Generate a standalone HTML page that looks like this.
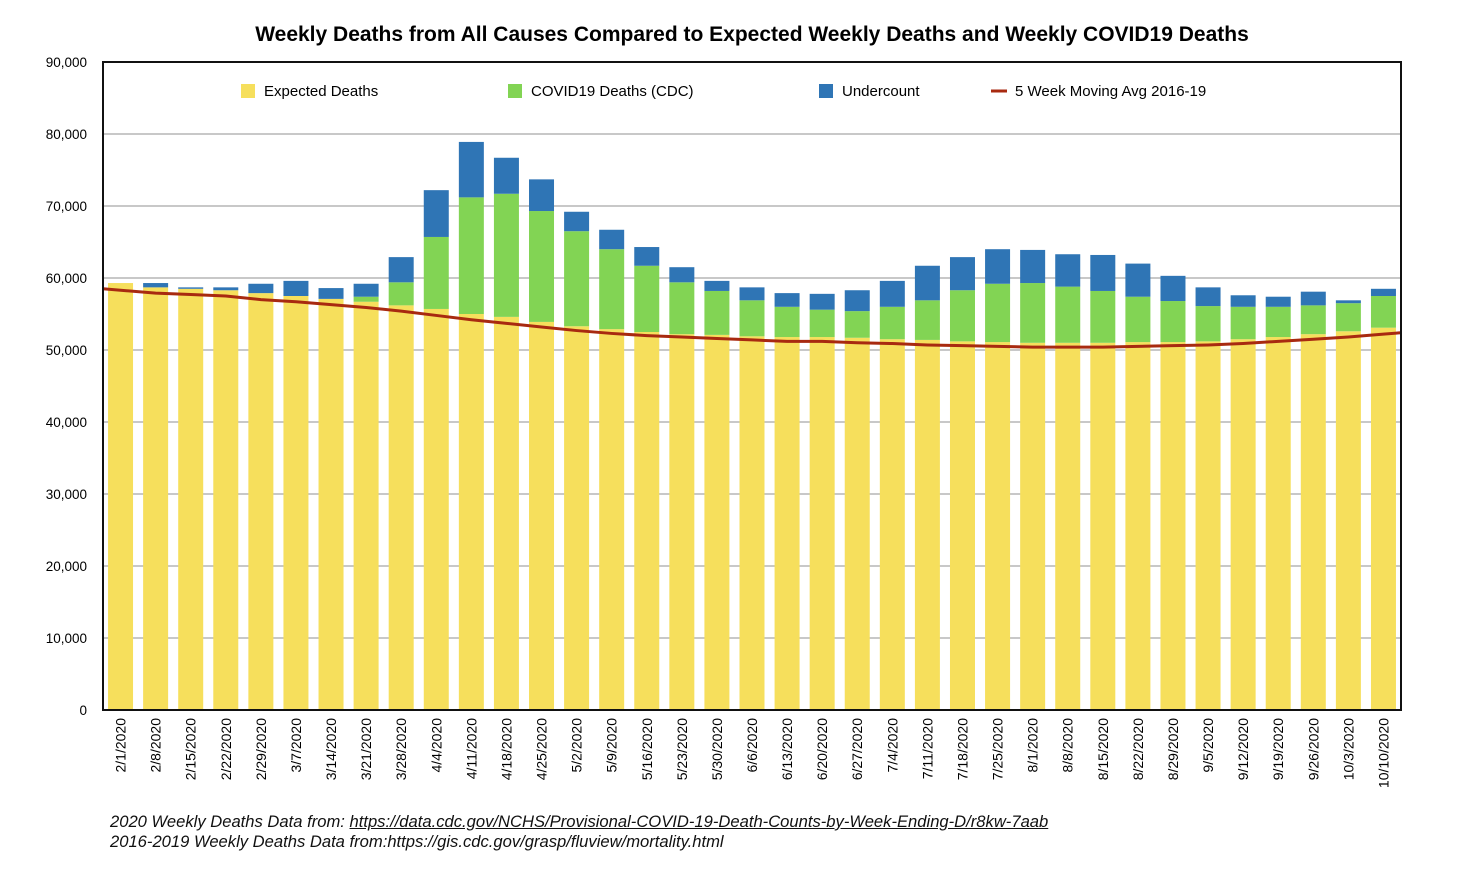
<!DOCTYPE html>
<html><head><meta charset="utf-8">
<style>
body{margin:0;background:#fff;font-family:"Liberation Sans",Arial,sans-serif;}
#wrap{position:relative;width:1482px;height:880px;overflow:hidden;}
svg text{font-family:"Liberation Sans",Arial,sans-serif;}
.foot{position:absolute;left:110px;font-style:italic;font-size:16.6px;color:#111;}
</style></head>
<body>
<div id="wrap">
<svg id="chart" width="1482" height="880"></svg>
<div class="foot" style="top:812px">2020 Weekly Deaths Data from: <span style="text-decoration:underline">https://data.cdc.gov/NCHS/Provisional-COVID-19-Death-Counts-by-Week-Ending-D/r8kw-7aab</span></div>
<div class="foot" style="top:832px">2016-2019 Weekly Deaths Data from:https://gis.cdc.gov/grasp/fluview/mortality.html</div>
</div>
<script>
const categories=["2/1/2020","2/8/2020","2/15/2020","2/22/2020","2/29/2020","3/7/2020","3/14/2020","3/21/2020","3/28/2020","4/4/2020","4/11/2020","4/18/2020","4/25/2020","5/2/2020","5/9/2020","5/16/2020","5/23/2020","5/30/2020","6/6/2020","6/13/2020","6/20/2020","6/27/2020","7/4/2020","7/11/2020","7/18/2020","7/25/2020","8/1/2020","8/8/2020","8/15/2020","8/22/2020","8/29/2020","9/5/2020","9/12/2020","9/19/2020","9/26/2020","10/3/2020","10/10/2020"];
const expected=[59300,58700,58500,58300,57900,57500,57100,56700,56200,55700,55000,54600,53900,53300,52900,52500,52200,52100,51900,51800,51800,51700,51500,51400,51200,51100,51000,51000,51000,51100,51100,51200,51500,51800,52200,52600,53100];
const covid=[0,0,0,0,0,0,0,700,3200,10000,16200,17100,15400,13200,11100,9200,7200,6100,5000,4200,3800,3700,4500,5500,7100,8100,8300,7800,7200,6300,5700,4900,4500,4200,4000,3900,4400];
const undercount=[0,600,200,400,1300,2100,1500,1800,3500,6500,7700,5000,4400,2700,2700,2600,2100,1400,1800,1900,2200,2900,3600,4800,4600,4800,4600,4500,5000,4600,3500,2600,1600,1400,1900,400,1000];
const movingAvg=[58300,57900,57700,57500,57000,56700,56300,55900,55400,54800,54200,53700,53200,52700,52300,52000,51800,51600,51400,51200,51200,51000,50900,50700,50600,50500,50400,50400,50400,50500,50600,50700,50900,51200,51500,51800,52200];
const movingAvgStart=58500, movingAvgEnd=52400;
const yTicks=[0,10000,20000,30000,40000,50000,60000,70000,80000,90000];
const yTickLabels=["0","10,000","20,000","30,000","40,000","50,000","60,000","70,000","80,000","90,000"];

const NS="http://www.w3.org/2000/svg";
const svg=document.getElementById('chart');
const L=103,R=1401,T=62,B=710,YMAX=90000;
const band=(R-L)/categories.length, bw=25;
function y(v){return B-(v/YMAX)*(B-T);}
function xc(i){return L+band*(i+0.5);}
function mk(tag,attrs,parent){const e=document.createElementNS(NS,tag);for(const k in attrs)e.setAttribute(k,attrs[k]);(parent||svg).appendChild(e);return e;}

const title=mk('text',{x:752,y:41,'text-anchor':'middle','font-size':21,'font-weight':'bold',fill:'#000'});
title.textContent='Weekly Deaths from All Causes Compared to Expected Weekly Deaths and Weekly COVID19 Deaths';



yTicks.forEach((t,i)=>{
  if(t>0&&t<YMAX){const g=mk('line',{x1:L,x2:R,y1:y(t),y2:y(t),stroke:'#c8c8c8','stroke-width':2});
  
  }
  const tx=mk('text',{x:87,y:y(t)+5,'text-anchor':'end','font-size':13.5,fill:'#000'});
  tx.textContent=yTickLabels[i];
  
  
});

categories.forEach((c,i)=>{
  const x0=xc(i)-bw/2;
  const e=expected[i],cv=covid[i],u=undercount[i];
  const r1=mk('rect',{x:x0,y:y(e),width:bw,height:B-y(e),fill:'#f6df5c'});
  
  
  const r2=mk('rect',{x:x0,y:y(e+cv),width:bw,height:y(e)-y(e+cv),fill:'#82d454'});
  
  
  const r3=mk('rect',{x:x0,y:y(e+cv+u),width:bw,height:y(e+cv)-y(e+cv+u),fill:'#2f75b5'});
  
  
  const tx=mk('text',{transform:`translate(${xc(i)+5},718) rotate(-90)`,'text-anchor':'end','font-size':14,fill:'#000'});
  tx.textContent=c;
  
  
});

let pts=[[L,y(movingAvgStart)]];
movingAvg.forEach((v,i)=>pts.push([xc(i),y(v)]));
pts.push([R,y(movingAvgEnd)]);
const line=mk('polyline',{points:pts.map(p=>p.join(',')).join(' '),fill:'none',stroke:'#a82a10','stroke-width':3,'stroke-linejoin':'round'});



const frame=mk('rect',{x:L,y:T,width:R-L,height:B-T,fill:'none',stroke:'#111','stroke-width':2});



const legend=[["Expected Deaths","#f6df5c",241,'sq'],["COVID19 Deaths (CDC)","#82d454",508,'sq'],["Undercount","#2f75b5",819,'sq'],["5 Week Moving Avg 2016-19","#a82a10",991,'ln']];
legend.forEach(l=>{
  const g=mk('g',{});
  
  
  if(l[3]==='sq') mk('rect',{x:l[2],y:84,width:14,height:14,fill:l[1]},g);
  else mk('line',{x1:l[2],x2:l[2]+16,y1:91,y2:91,stroke:l[1],'stroke-width':3},g);
  const t=mk('text',{x:l[2]+(l[3]==='sq'?23:24),y:96,'font-size':15,fill:'#000'},g);
  t.textContent=l[0];
});
</script>
</body></html>
